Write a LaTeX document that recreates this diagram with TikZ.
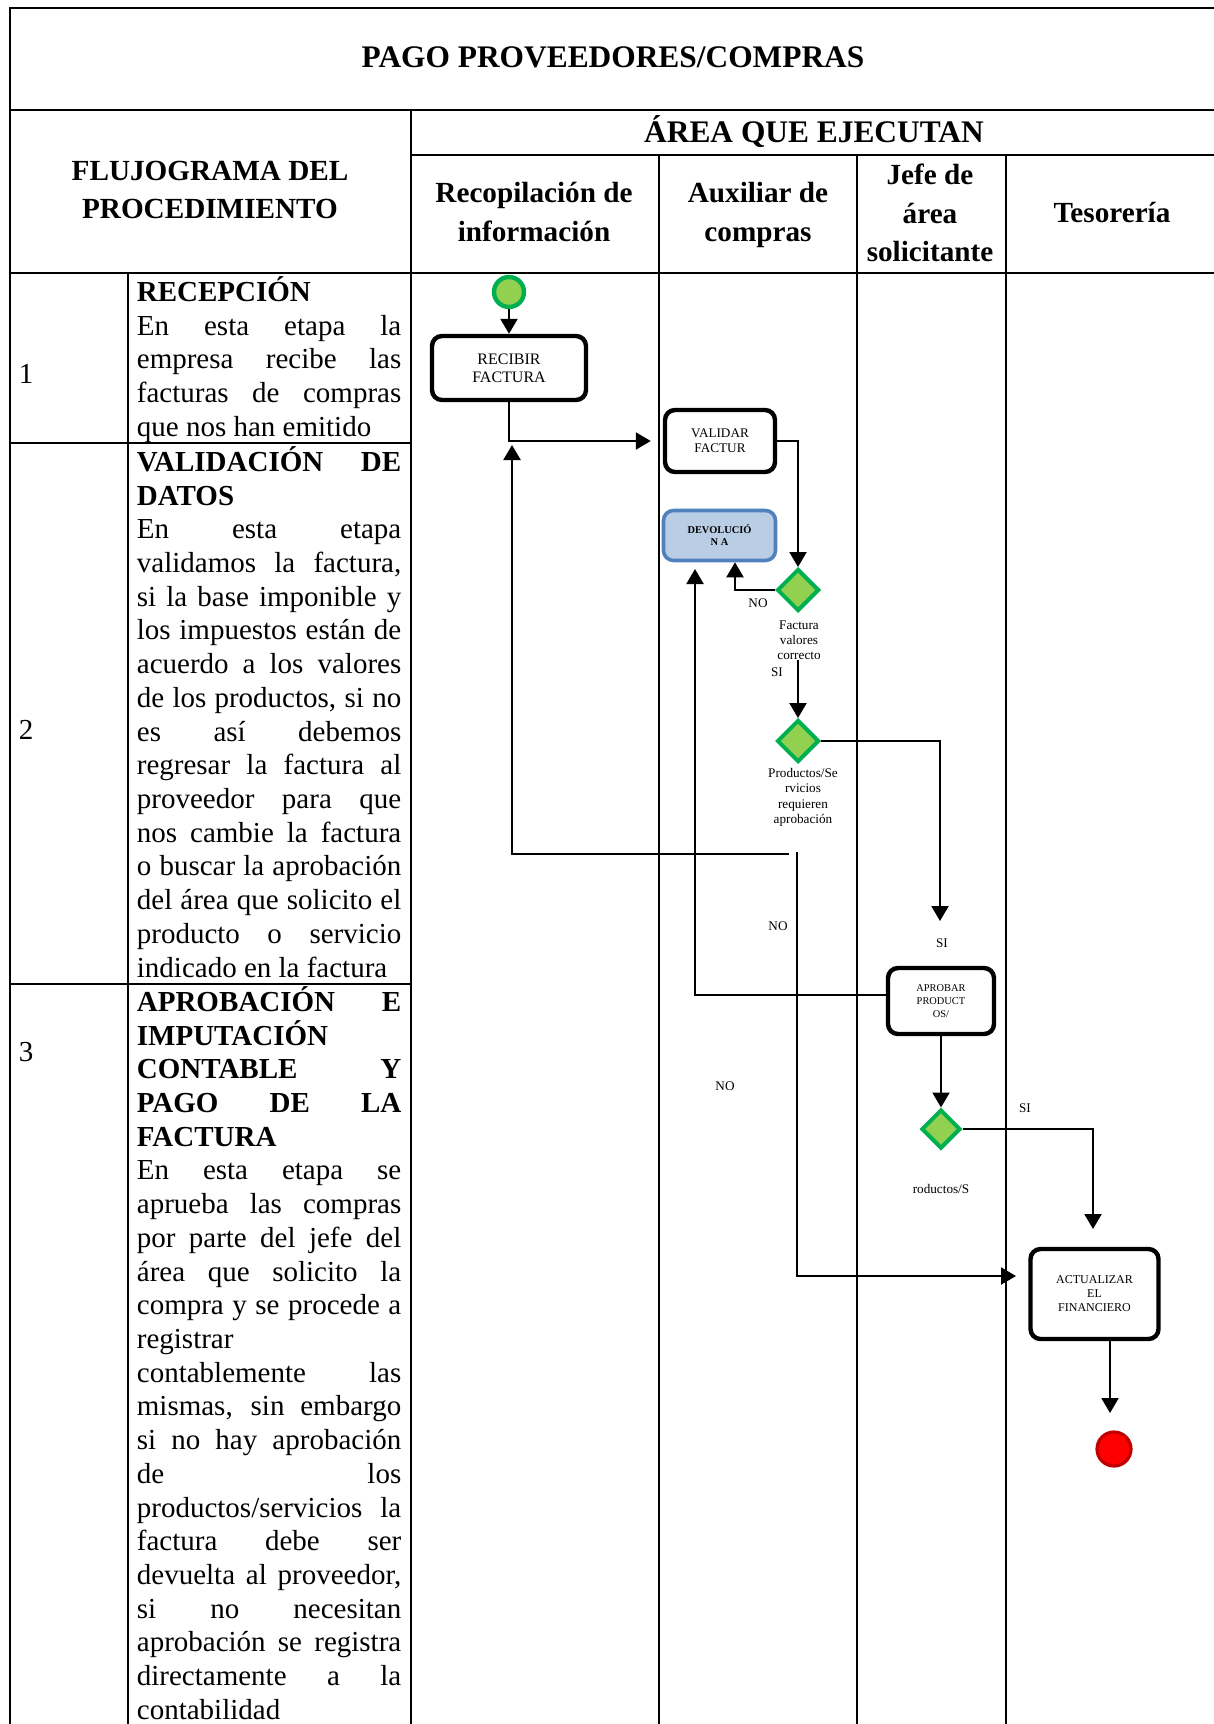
\documentclass[tikz,border=0pt]{standalone}
\usepackage{fontspec}
\setmainfont{Liberation Serif}
\usetikzlibrary{arrows.meta}
\usetikzlibrary{shapes.geometric}

\definecolor{verdeborde}{HTML}{00B050}
\definecolor{verderelleno}{HTML}{92D050}
\definecolor{azulborde}{HTML}{4F81BD}
\definecolor{azulrelleno}{HTML}{B9CDE5}
\definecolor{rojoborde}{HTML}{C00000}
\hbadness=10000

\begin{document}
\begin{tikzpicture}[x=0.5pt,y=-0.5pt,
    tabla/.style={line width=1.2pt},
    titulo/.style={font=\fontsize{15.7}{19}\selectfont\bfseries},
    cabecera/.style={font=\fontsize{14.6}{19.2}\selectfont\bfseries, align=center},
    paso/.style={anchor=north west, inner sep=0pt, text width=132.2pt, align=justify, font={\fontsize{14.5}{16.86}\selectfont\lineskiplimit=-20pt}},
    tarea/.style={draw, line width=2.2pt, rounded corners=5pt, align=center, inner sep=1pt},
    rombo/.style={diamond, draw=verdeborde, fill=verderelleno, line width=2pt, inner sep=0pt, minimum width=21pt, minimum height=21pt},
    evento/.style={circle, inner sep=0pt, line width=2.2pt},
    etiqueta/.style={font=\fontsize{6.6}{7.7}\selectfont, align=center, inner sep=0pt},
    flecha/.style={line width=1.1pt, -{Triangle[length=7.5pt,width=8.5pt]}}]
\useasboundingbox (0,0) rectangle (1214,1724);

\draw[tabla] (10,1724) -- (10,8) -- (1214,8);
\draw[tabla] (10,110) -- (1214,110);
\draw[tabla] (411,155) -- (1214,155);
\draw[tabla] (10,273) -- (1214,273);
\draw[tabla] (411,110) -- (411,1724);
\foreach \x in {659,857,1006} \draw[tabla] (\x,155) -- (\x,1724);
\draw[tabla] (128,273) -- (128,1724);
\draw[tabla] (10,443) -- (411,443);
\draw[tabla] (10,984) -- (411,984);

\node[titulo] (T) at (613,57) {PAGO PROVEEDORES/COMPRAS};
\node[titulo] (A) at (814,132) {ÁREA QUE EJECUTAN};
\node[cabecera] (F) at (210,190) {FLUJOGRAMA DEL\\PROCEDIMIENTO};
\node[cabecera] (R) at (534,212) {Recopilación de\\información};
\node[cabecera] (X) at (758,215) {Auxiliar de\\compras};
\node[cabecera] (J) at (930,213) {Jefe de\\área\\solicitante};
\node[cabecera] (S) at (1112,212) {Tesorería};

\node[font=\fontsize{14.5}{16.86}\selectfont] (n1) at (26,374) {1};
\node[font=\fontsize{14.5}{16.86}\selectfont] (n2) at (26,730) {2};
\node[font=\fontsize{14.5}{16.86}\selectfont] (n3) at (26,1052) {3};

\node[paso] (p1) at (136.5,276) {\strut\textbf{RECEPCIÓN}\par
En esta etapa la\linebreak empresa recibe las\linebreak facturas de compras\linebreak que nos han emitido};
\node[paso] (p2) at (136.5,446) {\strut\textbf{VALIDACIÓN DE\linebreak DATOS}\par
En esta etapa\linebreak validamos la factura,\linebreak si la base imponible y\linebreak los impuestos están de\linebreak acuerdo a los valores\linebreak de los productos, si no\linebreak es así debemos\linebreak regresar la factura al\linebreak proveedor para que\linebreak nos cambie la factura\linebreak o buscar la aprobación\linebreak del área que solicito el\linebreak producto o servicio\linebreak indicado en la factura};
\node[paso] (p3) at (136.5,986) {\strut\textbf{APROBACIÓN E\linebreak IMPUTACIÓN\linebreak CONTABLE Y\linebreak PAGO DE LA\linebreak FACTURA}\par
En esta etapa se\linebreak aprueba las compras\linebreak por parte del jefe del\linebreak área que solicito la\linebreak compra y se procede a\linebreak registrar\linebreak contablemente las\linebreak mismas, sin embargo\linebreak si no hay aprobación\linebreak de los\linebreak productos/servicios la\linebreak factura debe ser\linebreak devuelta al proveedor,\linebreak si no necesitan\linebreak aprobación se registra\linebreak directamente a la\linebreak contabilidad};

\node[evento, draw=verdeborde, fill=verderelleno, minimum size=15pt] (inicio) at (509,292) {};
\node[tarea, minimum width=77pt, minimum height=32pt, font=\fontsize{8}{8.8}\selectfont] (recibir) at (509,368) {RECIBIR\\FACTURA};
\node[tarea, minimum width=55pt, minimum height=31pt, font=\fontsize{6.6}{7.7}\selectfont] (validar) at (720,441) {VALIDAR\\FACTUR};
\node[tarea, draw=azulborde, fill=azulrelleno, line width=1.8pt, minimum width=56pt, minimum height=25pt, font=\fontsize{5.2}{6}\selectfont\bfseries] (devol) at (719.5,535.5) {DEVOLUCIÓ\\N A};
\node[rombo] (d1) at (798,590) {};
\node[etiqueta, anchor=north] (l1) at (799,620) {Factura\\valores\\correcto};
\node[rombo] (d2) at (798,741) {};
\node[etiqueta, anchor=north] (l2) at (803,768) {Productos/Se\\rvicios\\requieren\\aprobación};
\node[tarea, minimum width=53pt, minimum height=33pt, font=\fontsize{5.2}{6.3}\selectfont] (aprobar) at (941,1001) {APROBAR\\PRODUCT\\OS/};
\node[rombo, minimum width=19.5pt, minimum height=19.5pt] (d3) at (941,1129) {};
\node[etiqueta] (l3) at (941,1189) {roductos/S};
\node[tarea, minimum width=64pt, minimum height=45pt, font=\fontsize{6}{7}\selectfont] (actualizar) at (1094.5,1294) {ACTUALIZAR\\EL\\FINANCIERO};
\node[evento, draw=rojoborde, fill=red, line width=1.6pt, minimum size=17pt] (fin) at (1114,1449) {};

\node[etiqueta] (no1) at (758,603) {NO};
\node[etiqueta] (si1) at (777,672) {SI};
\node[etiqueta] (no2) at (778,926) {NO};
\node[etiqueta] (si2) at (942,943) {SI};
\node[etiqueta] (no3) at (725,1086) {NO};
\node[etiqueta] (si3) at (1025,1108) {SI};

\coordinate (c1) at (940,921);
\coordinate (c2) at (789,854);
\coordinate (c3) at (512,445);
\coordinate (c4) at (797,852);
\coordinate (c5) at (1016,1276);
\coordinate (c6) at (695,569);
\coordinate (c7) at (1093,1229);
\coordinate (c8) at (1110,1413);

\draw[flecha] (inicio) -- (recibir);
\draw[flecha] (recibir.south) |- ([xshift=-6pt]validar.west);
\draw[flecha] (validar.east) -| (d1.north);
\draw[flecha] (d1.west) -| ([xshift=7.75pt]devol.south);
\draw[flecha] (d2.north |- l1.south) -- (d2.north);
\draw[flecha] (d2.east) -| (c1);
\draw[flecha] (c2) -| (c3);
\draw[flecha] (c4) |- (c5);
\draw[flecha] ([yshift=3pt]aprobar.west) -| (c6);
\draw[flecha] (aprobar) -- (d3);
\draw[flecha] (d3.east) -| (c7);
\draw[flecha] (actualizar.south -| c8) -- (c8);
\end{tikzpicture}
\end{document}
